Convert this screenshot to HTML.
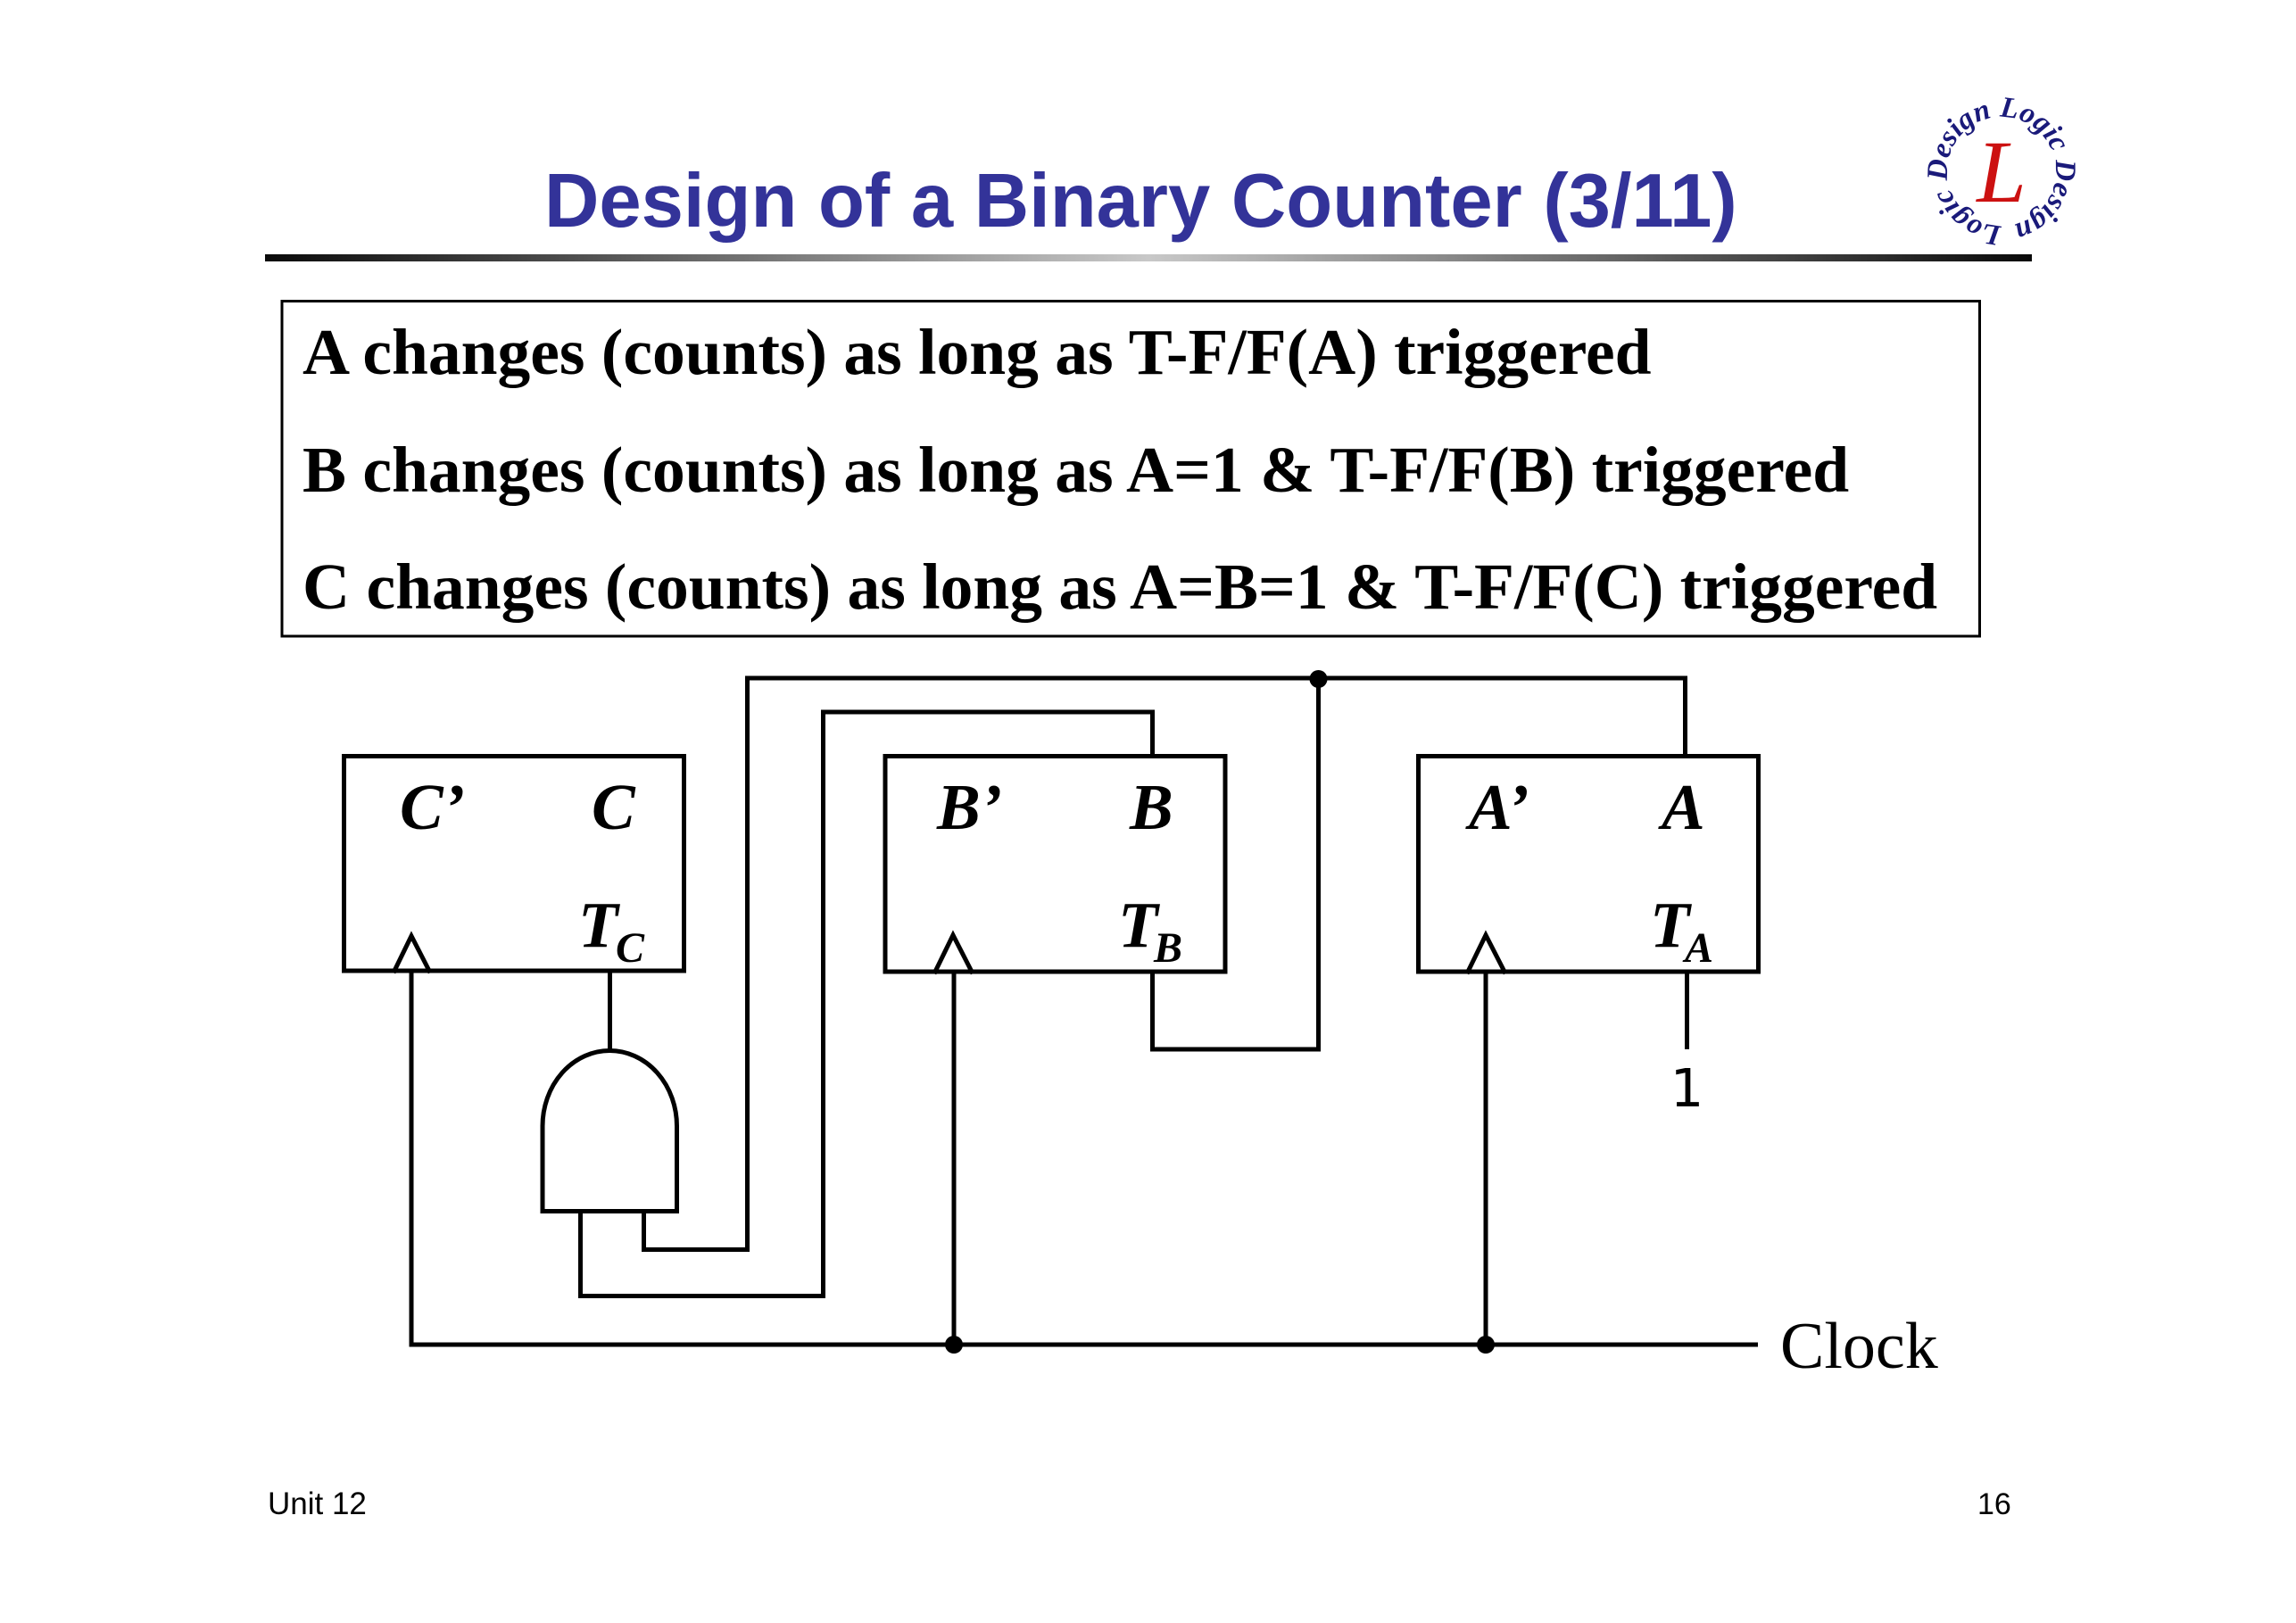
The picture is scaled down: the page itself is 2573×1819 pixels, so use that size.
<!DOCTYPE html>
<html>
<head>
<meta charset="utf-8">
<style>
  html,body{margin:0;padding:0;background:#fff;}
  svg{display:block;}
</style>
</head>
<body>
<svg width="2573" height="1819" viewBox="0 0 2573 1819" xmlns="http://www.w3.org/2000/svg">
  <defs>
    <linearGradient id="rule" x1="0" y1="0" x2="1" y2="0">
      <stop offset="0" stop-color="#0a0a0a"/>
      <stop offset="0.12" stop-color="#3a3a3a"/>
      <stop offset="0.5" stop-color="#c8c8c8"/>
      <stop offset="0.88" stop-color="#3a3a3a"/>
      <stop offset="1" stop-color="#0a0a0a"/>
    </linearGradient>
    <path id="logoCircle" d="M 2243 253 A 61 61 0 1 1 2243.1 253 Z"/>
  </defs>

  <!-- Title -->
  <text x="610" y="254" font-family="Liberation Sans, Arial, sans-serif" font-weight="bold" font-size="85" fill="#333399">Design of a Binary Counter (3/11)</text>

  <!-- Rule -->
  <rect x="297" y="285" width="1980" height="8" fill="url(#rule)"/>

  <!-- Logo -->
  <g>
    <text font-family="Liberation Serif, serif" font-style="italic" font-weight="bold" font-size="33" fill="#1a1a7a">
      <textPath href="#logoCircle">Logic Design Logic Design Logic Design</textPath>
    </text>
    <text x="2243" y="226" text-anchor="middle" font-family="Liberation Serif, serif" font-style="italic" font-size="100" fill="#cc1111">L</text>
  </g>

  <!-- Text box -->
  <rect x="316" y="337.5" width="1902.5" height="375.5" fill="none" stroke="#000" stroke-width="3"/>
  <g font-family="Liberation Serif, 'Times New Roman', serif" font-weight="bold" font-size="73.5" fill="#000">
    <text x="339" y="419">A changes (counts) as long as T-F/F(A) triggered</text>
    <text x="339" y="551">B changes (counts) as long as A=1 &amp; T-F/F(B) triggered</text>
    <text x="339" y="682">C changes (counts) as long as A=B=1 &amp; T-F/F(C) triggered</text>
  </g>

  <!-- Circuit -->
  <g fill="none" stroke="#000" stroke-width="5" stroke-linejoin="miter" stroke-linecap="square">
    <rect x="385.5" y="847.5" width="381" height="240.5"/>
    <rect x="992" y="847.5" width="381" height="241.5"/>
    <rect x="1589.5" y="847.5" width="381" height="241.5"/>

    <polyline points="442,1088 461,1049 481,1088"/>
    <polyline points="1048,1089 1068,1048 1089,1089"/>
    <polyline points="1645,1089 1665,1048 1686,1089"/>

    <line x1="461" y1="1090" x2="461" y2="1507"/>
    <line x1="1069" y1="1091" x2="1069" y2="1507"/>
    <line x1="1665" y1="1091" x2="1665" y2="1507"/>
    <line x1="461" y1="1507" x2="1970" y2="1507" stroke-linecap="butt"/>

    <line x1="683.5" y1="1088" x2="683.5" y2="1177.5"/>

    <path d="M 608 1357.5 L 608 1262 A 75.25 84.5 0 0 1 758.5 1262 L 758.5 1357.5 Z"/>

    <polyline points="650.5,1357.5 650.5,1452.5 922.5,1452.5 922.5,798 1291.5,798 1291.5,847.5"/>

    <polyline points="721.5,1357.5 721.5,1400.5 837.5,1400.5 837.5,760 1888.5,760 1888.5,847.5"/>

    <polyline points="1291.5,1089 1291.5,1176 1477.5,1176 1477.5,760"/>

    <line x1="1890.5" y1="1089" x2="1890.5" y2="1176" stroke-linecap="butt"/>
  </g>

  <g fill="#000">
    <circle cx="1477.5" cy="761" r="10"/>
    <circle cx="1069" cy="1507" r="10"/>
    <circle cx="1665" cy="1507" r="10"/>
  </g>

  <!-- Flip-flop labels -->
  <g font-family="Liberation Serif, 'Times New Roman', serif" font-weight="bold" font-style="italic" font-size="73" fill="#000">
    <text x="448" y="929">C’</text>
    <text x="663" y="929">C</text>
    <text x="648" y="1061">T</text>
    <text x="690" y="1078" font-size="48">C</text>

    <text x="1050" y="929">B’</text>
    <text x="1266" y="929">B</text>
    <text x="1253" y="1061">T</text>
    <text x="1293" y="1078" font-size="48">B</text>

    <text x="1646" y="929">A’</text>
    <text x="1862" y="929">A</text>
    <text x="1849" y="1061">T</text>
    <text x="1888" y="1078" font-size="48">A</text>
  </g>

  <text x="1890.5" y="1240" text-anchor="middle" font-family="DejaVu Sans, sans-serif" font-size="59" fill="#000">1</text>

  <text x="1995" y="1533" font-family="Liberation Serif, 'Times New Roman', serif" font-size="74" fill="#000">Clock</text>

  <text x="300" y="1697" font-family="Liberation Sans, Arial, sans-serif" font-size="35" fill="#000">Unit 12</text>
  <text x="2216" y="1697" font-family="Liberation Sans, Arial, sans-serif" font-size="34" fill="#000">16</text>
</svg>
</body>
</html>
